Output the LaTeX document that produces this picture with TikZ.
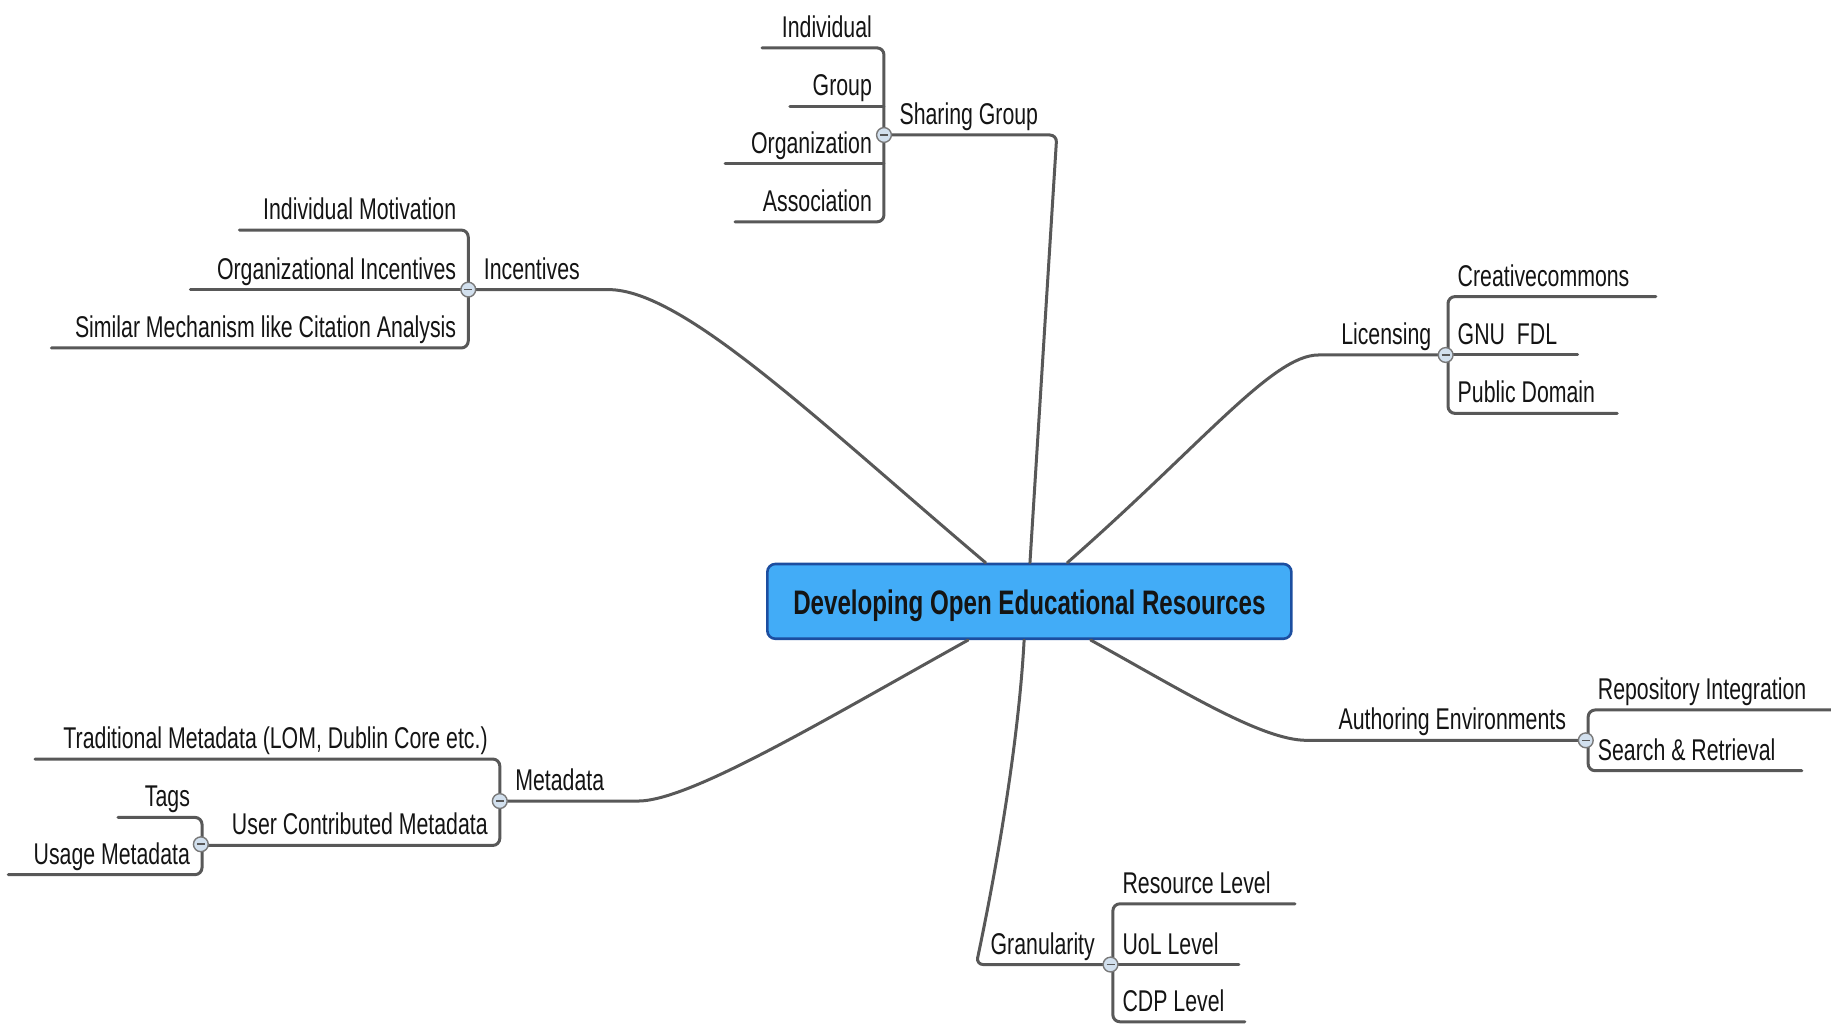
\documentclass[tikz,border=0pt]{standalone}
\usepackage{fontspec}
\setmainfont{Liberation Sans}[FakeStretch=0.71]
\usetikzlibrary{calc}
\definecolor{lnc}{RGB}{88,88,88}
\definecolor{boxfill}{RGB}{66,172,247}
\definecolor{boxdraw}{RGB}{28,78,160}
\definecolor{knobfill}{RGB}{210,224,238}
\definecolor{txt}{RGB}{20,20,20}
\begin{document}
\begin{tikzpicture}[x=0.58385pt,y=-0.58385pt,
  lbl/.style={font=\fontsize{15}{17}\selectfont, text=txt, inner sep=0pt},
  br/.style={draw=lnc, line width=1.5pt, rounded corners=3.5pt, line cap=round},
  knob/.style={circle, draw=lnc!80, fill=knobfill, line width=0.7pt, minimum size=7.4pt, inner sep=0pt,
    path picture={\draw[lnc, line width=0.8pt] ([xshift=-2pt]path picture bounding box.center) -- ([xshift=2pt]path picture bounding box.center);}},
  ctrbox/.style={draw=boxdraw, fill=boxfill, line width=1.3pt, rounded corners=4pt,
    minimum width=262pt, minimum height=37.4pt, font=\fontsize{17}{19}\selectfont\bfseries, text=txt}]
\useasboundingbox (0,0) rectangle (1568,877);

% central topic
\node[ctrbox] (ctr) at (881.5,515) {\raisebox{-2pt}[\height][\depth]{Developing Open Educational Resources}};

% ---------- Sharing Group ----------
\node[lbl, anchor=base east] (ind) at (747,32) {Individual};
\node[lbl, anchor=base east] (grp) at (747,81.8) {Group};
\node[lbl, anchor=base east] (org) at (747,131.4) {Organization};
\node[lbl, anchor=base east] (ass) at (747,181) {Association};
\node[lbl, anchor=base west] (sg) at (770,106.6) {Sharing Group};
\coordinate (sgE) at (905,115.6);
\draw[br] ($(ctr.north west)+(226,0)$) -- (sgE) -- (757,115.6);
\draw[br] (652.6,41) -- (757,41) -- (757,190) -- (629.5,190);
\draw[br] (676.5,90.8) -- (757,90.8);
\draw[br] (621,140.4) -- (757,140.4);
\node[knob] (sgk) at (757,115.6) {};

% ---------- Incentives ----------
\node[lbl, anchor=base east] (im) at (391,188) {Individual Motivation};
\node[lbl, anchor=base east] (oi) at (391,239) {Organizational Incentives};
\node[lbl, anchor=base east] (sm) at (391,289) {Similar Mechanism like Citation Analysis};
\node[lbl, anchor=base west] (inc) at (414,239) {Incentives};
\coordinate (incE) at (515,248);
\draw[br] ($(ctr.north west)+(188,0)$) .. controls (700,360) and (585,248) .. (incE) -- (401,248);
\draw[br] (205,197) -- (401,197) -- (401,298) -- (44,298);
\draw[br] (163,248) -- (401,248);
\node[knob] (inck) at (401,248) {};

% ---------- Licensing ----------
\node[lbl, anchor=base east] (lic) at (1226,295) {Licensing};
\node[lbl, anchor=base west] (cc) at (1248,245) {Creativecommons};
\node[lbl, anchor=base west] (gnu) at (1248,295) {GNU\ \ FDL};
\node[lbl, anchor=base west] (pd) at (1248,345) {Public Domain};
\coordinate (licE) at (1135,304);
\draw[br] ($(ctr.north west)+(258,0)$) .. controls (1030,380) and (1090,304) .. (licE) -- (1240,304);
\draw[br] (1418,254) -- (1240,254) -- (1240,354) -- (1385,354);
\draw[br] (1240,304) -- (1351,304);
\node[knob] (lick) at (1238,304) {};

% ---------- Metadata ----------
\node[lbl, anchor=base west] (md) at (441,677) {Metadata};
\node[lbl, anchor=base east] (tm) at (418,641) {Traditional Metadata (LOM, Dublin Core etc.)};
\node[lbl, anchor=base east] (ucm) at (418,715) {User Contributed Metadata};
\node[lbl, anchor=base east] (tags) at (163,691) {Tags};
\node[lbl, anchor=base east] (um) at (163,740) {Usage Metadata};
\coordinate (mdE) at (540,686);
\draw[br] ($(ctr.south west)+(173,0)$) .. controls (700,620) and (590,686) .. (mdE) -- (428,686);
\draw[br] (30,650) -- (428,650) -- (428,724) -- (173,724);
\draw[br] (101,700) -- (173,700) -- (173,749) -- (7,749);
\node[knob] (mdk) at (428,686) {};
\node[knob] (ucmk) at (172,723) {};

% ---------- Authoring Environments ----------
\node[lbl, anchor=base west] (ae) at (1146,625) {Authoring Environments};
\node[lbl, anchor=base west] (ri) at (1368,599) {Repository Integration};
\node[lbl, anchor=base west] (sr) at (1368,651) {Search \& Retrieval};
\coordinate (aeE) at (1125,634);
\draw[br] ($(ctr.south west)+(278,0)$) .. controls (1010,590) and (1080,634) .. (aeE) -- (1360,634);
\draw[br] (1568,608) -- (1360,608) -- (1360,660) -- (1543,660);
\node[knob] (aek) at (1358,634) {};

% ---------- Granularity ----------
\node[lbl, anchor=base west] (gr) at (848,817) {Granularity};
\node[lbl, anchor=base west] (rl) at (961,765) {Resource Level};
\node[lbl, anchor=base west] (uol) at (961,817) {UoL Level};
\node[lbl, anchor=base west] (cdp) at (961,866) {CDP Level};
\coordinate (grE) at (836,826);
\draw[br] ($(ctr.south west)+(221,0)$) .. controls (872,640) and (852,750) .. (grE) -- (953,826);
\draw[br] (1109,774) -- (953,774) -- (953,875) -- (1066,875);
\draw[br] (953,826) -- (1061,826);
\node[knob] (grk) at (951,826) {};
\end{tikzpicture}
\end{document}
